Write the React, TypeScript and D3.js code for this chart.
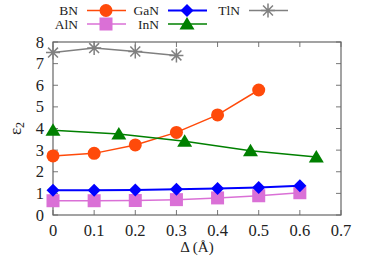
import React from 'react'
import * as d3 from 'd3'

const bnX = [0, 0.1, 0.2, 0.3, 0.4, 0.5]
const bnY = [2.73, 2.85, 3.24, 3.82, 4.63, 5.78]
const alnX = [0, 0.1, 0.2, 0.3, 0.4, 0.5, 0.6]
const alnY = [0.66, 0.66, 0.67, 0.71, 0.79, 0.89, 1.03]
const ganX = [0, 0.1, 0.2, 0.3, 0.4, 0.5, 0.6]
const ganY = [1.14, 1.14, 1.16, 1.19, 1.22, 1.27, 1.35]
const innX = [0, 0.16, 0.32, 0.48, 0.64]
const innY = [3.92, 3.75, 3.41, 2.97, 2.68]
const tlnX = [0, 0.1, 0.2, 0.3]
const tlnY = [7.51, 7.72, 7.56, 7.38]
const xTicks = [0, 0.1, 0.2, 0.3, 0.4, 0.5, 0.6, 0.7]
const yTicks = [0, 1, 2, 3, 4, 5, 6, 7, 8]

const W = 374
const H = 261
const left = 53, right = 341, top = 42, bottom = 215
const serif = { fontFamily: "'Liberation Serif'" }

type Kind = 'circle' | 'square' | 'diamond' | 'triangle' | 'star'

const series = [
  { name: 'BN', xs: bnX, ys: bnY, color: '#ff4a0a', kind: 'circle' as Kind, lw: 1.5 },
  { name: 'AlN', xs: alnX, ys: alnY, color: '#da70d6', kind: 'square' as Kind, lw: 1.5 },
  { name: 'GaN', xs: ganX, ys: ganY, color: '#0000ff', kind: 'diamond' as Kind, lw: 2 },
  { name: 'InN', xs: innX, ys: innY, color: '#008000', kind: 'triangle' as Kind, lw: 1.5 },
  { name: 'TlN', xs: tlnX, ys: tlnY, color: '#808080', kind: 'star' as Kind, lw: 1.5 },
]

function Marker({ x, y, kind, color }: { x: number; y: number; kind: Kind; color: string }) {
  if (kind === 'circle') return <circle cx={x} cy={y} r={6.5} fill={color} />
  if (kind === 'square') return <rect x={x - 6.5} y={y - 6.5} width={13} height={13} fill={color} />
  if (kind === 'diamond') return <path d={`M${x},${y - 6.5}L${x + 6.5},${y}L${x},${y + 6.5}L${x - 6.5},${y}Z`} fill={color} />
  if (kind === 'triangle') return <path d={`M${x},${y - 7}L${x + 7.5},${y + 5.5}L${x - 7.5},${y + 5.5}Z`} fill={color} />
  const r = 7
  const d = [0, 45, 90, 135].map(a => {
    const t = (a * Math.PI) / 180
    return `M${x - r * Math.cos(t)},${y - r * Math.sin(t)}L${x + r * Math.cos(t)},${y + r * Math.sin(t)}`
  }).join('')
  return <path d={d} stroke={color} strokeWidth={1.5} fill="none" />
}

export default function App() {
  const x = d3.scaleLinear().domain([0, 0.7]).range([left, right])
  const y = d3.scaleLinear().domain([0, 8]).range([bottom, top])
  const line = d3.line<[number, number]>().x(d => x(d[0])).y(d => y(d[1]))

  const legendPos: Record<string, [number, number]> = {
    BN: [78, 10.5], AlN: [78, 24], GaN: [159, 10.5], InN: [159, 24], TlN: [240, 10.5],
  }

  return (
    <svg width={W} height={H} style={{ position: 'absolute', left: 0, top: 0 }}>
      <rect width={W} height={H} fill="white" />
      {/* ticks */}
      {xTicks.map(t => (
        <g key={'x' + t}>
          <line x1={x(t)} x2={x(t)} y1={bottom} y2={bottom - 5} stroke="#777" />
          <line x1={x(t)} x2={x(t)} y1={top} y2={top + 5} stroke="#777" />
          <text x={x(t)} y={bottom + 21} textAnchor="middle" fontSize={16.5} fill="#222" style={serif}>{t}</text>
        </g>
      ))}
      {yTicks.map(t => (
        <g key={'y' + t}>
          <line x1={left} x2={left + 5} y1={y(t)} y2={y(t)} stroke="#777" />
          <line x1={right} x2={right - 5} y1={y(t)} y2={y(t)} stroke="#777" />
          <text x={left - 9} y={y(t) + 5.5} textAnchor="end" fontSize={16.5} fill="#222" style={serif}>{t}</text>
        </g>
      ))}
      <rect x={left} y={top} width={right - left} height={bottom - top} fill="none" stroke="#666" strokeWidth={1.2} />
      <text x={197} y={252} textAnchor="middle" fontSize={15} fill="#222" style={serif}>Δ (Å)</text>
      <text transform={`translate(21,${(top + bottom) / 2}) rotate(-90)`} textAnchor="middle" fontSize={17} fill="#222" style={serif}>
        ε<tspan fontSize={12} dy={3}>2</tspan>
      </text>
      {/* series */}
      {series.map(s => {
        const pts = s.xs.map((v, i) => [v, s.ys[i]] as [number, number])
        return (
          <g key={s.name}>
            <path d={line(pts) || ''} fill="none" stroke={s.color} strokeWidth={s.lw} />
            {pts.map((p, i) => <Marker key={i} x={x(p[0])} y={y(p[1])} kind={s.kind} color={s.color} />)}
          </g>
        )
      })}
      {/* legend */}
      {series.map(s => {
        const [lx, ly] = legendPos[s.name]
        return (
          <g key={'l' + s.name}>
            <text x={lx} y={ly + 4.5} textAnchor="end" fontSize={13.5} fill="#222" style={serif}>{s.name}</text>
            <line x1={lx + 9} x2={lx + 48} y1={ly} y2={ly} stroke={s.color} strokeWidth={s.lw} />
            <Marker x={lx + 28} y={ly} kind={s.kind} color={s.color} />
          </g>
        )
      })}
    </svg>
  )
}
